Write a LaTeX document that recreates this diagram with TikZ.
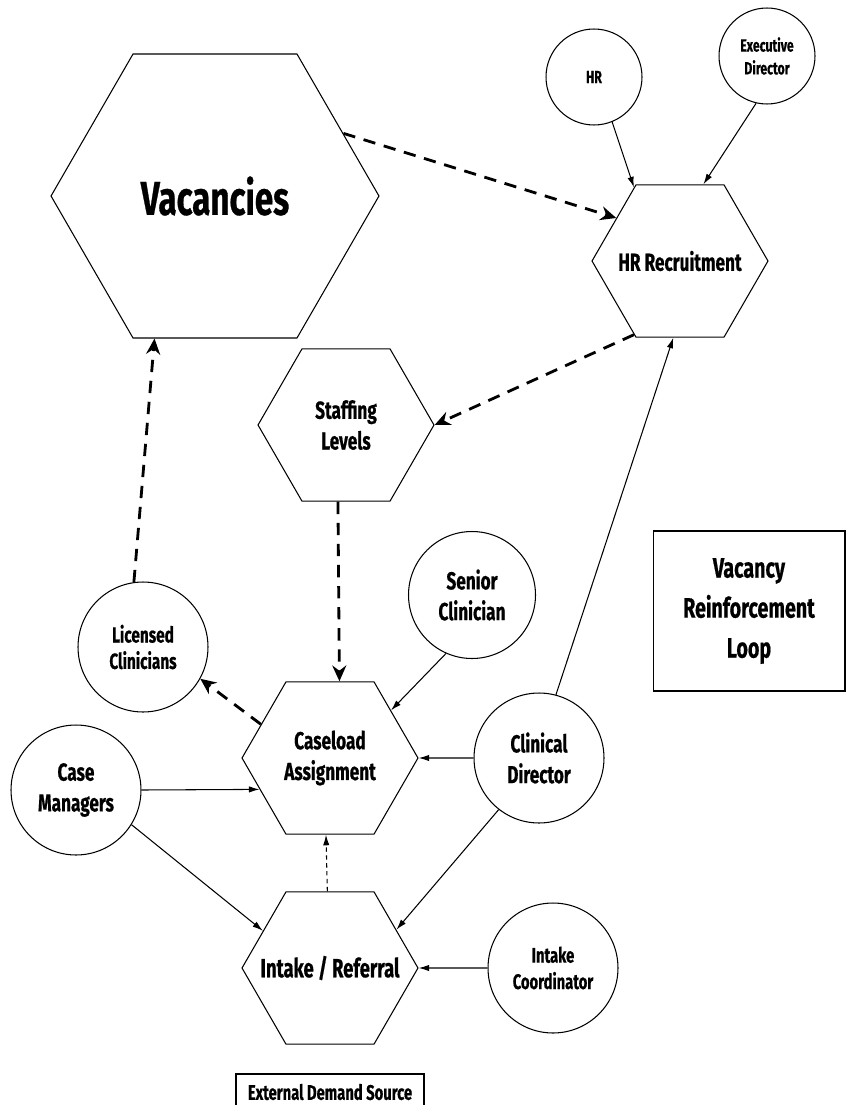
\documentclass[tikz,border=0pt]{standalone}
\usepackage{fontspec}
\setmainfont[FakeStretch=0.7,BoldFeatures={FakeBold=0.6}]{Fira Sans}
\usetikzlibrary{shapes.geometric,arrows.meta}

\begin{document}
\begin{tikzpicture}[x=0.02cm,y=-0.02cm,
  hexnode/.style={regular polygon,regular polygon sides=6,draw,line width=0.6pt,inner sep=0pt,
    minimum size=3.52cm,align=center,font=\bfseries\fontsize{14}{17.5}\selectfont},
  actor/.style={circle,draw,line width=0.6pt,inner sep=0pt,minimum size=2.6cm,align=center,
    font=\bfseries\fontsize{14}{17.5}\selectfont},
  smallactor/.style={actor,minimum size=1.92cm,font=\bfseries\fontsize{10}{13}\selectfont},
  loopline/.style={line width=1.6pt,dash pattern=on 7pt off 5pt,-{Stealth[length=9pt,width=8pt,inset=3pt]}},
  link/.style={line width=0.6pt,-{Latex[length=6pt,width=3.6pt]}},
  weaklink/.style={line width=0.6pt,dash pattern=on 2.5pt off 2pt,-{Latex[length=6pt,width=3.6pt]}}]
\useasboundingbox (0,0) rectangle (846,1105);

% Hexagons
\node[hexnode,minimum size=6.56cm,font=\bfseries\fontsize{27}{32}\selectfont] (vac) at (215,196) {Vacancies};
\node[hexnode] (hrr) at (680,261) {\makebox[0pt]{HR Recruitment}};
\node[hexnode] (stf) at (346,425) {Staffing\\Levels};
\node[hexnode] (cas) at (330,758) {Caseload\\Assignment};
\node[hexnode,font=\bfseries\fontsize{15}{18}\selectfont] (ir) at (330,968) {\makebox[0pt]{Intake / Referral}};

% Actors
\node[smallactor] (hr) at (594,77) {HR};
\node[smallactor] (ed) at (767,56) {Executive\\Director};
\node[actor,font=\bfseries\fontsize{12.5}{15}\selectfont] (lc) at (143,647) {Licensed\\Clinicians};
\node[actor,minimum size=2.54cm] (sc) at (472,595) {Senior\\Clinician};
\node[actor] (cm) at (76,790) {Case\\Managers};
\node[actor] (cd) at (539,758) {Clinical\\Director};
\node[actor,font=\bfseries\fontsize{12}{15}\selectfont] (ic) at (553,968) {Intake\\Coordinator};

% Boxes
\node[draw,line width=0.6pt,minimum width=3.84cm,minimum height=3.2cm,align=center,
  font=\bfseries\fontsize{16}{22.8}\selectfont] (loop) at (749,611) {Vacancy\\Reinforcement\\Loop};
\node[draw,line width=0.6pt,minimum width=3.76cm,minimum height=0.72cm,
  font=\bfseries\fontsize{12}{15}\selectfont] (ext) at (330,1092) {External Demand Source};

% Reinforcement loop
\draw[loopline] (vac.26.9) -- (hrr.146.9);
\draw[loopline] (hrr.238.8) -- (stf.east);
\draw[loopline] (stf.264.7) -- (cas.83.2);
\draw[loopline] (cas.154) -- (lc.331.5);
\draw[loopline] (lc.98.7) -- (vac.247);

% Other links
\draw[link] (hr.292.6) -- (hrr.122.6);
\draw[link] (ed.257) -- (hrr.73);
\draw[link] (cd.75.3) -- (hrr.265.5);
\draw[link] (sc.246) -- (cas.38);
\draw[link] (cd) -- (cas);
\draw[link] (cm.east) -- (cas.204.3);
\draw[link] (cm.328.4) -- (ir.151.9);
\draw[link] (cd.232.8) -- (ir.30.2);
\draw[link] (ic) -- (ir);
\draw[weaklink] (ir.92.3) -- (cas.267.7);
\end{tikzpicture}
\end{document}
